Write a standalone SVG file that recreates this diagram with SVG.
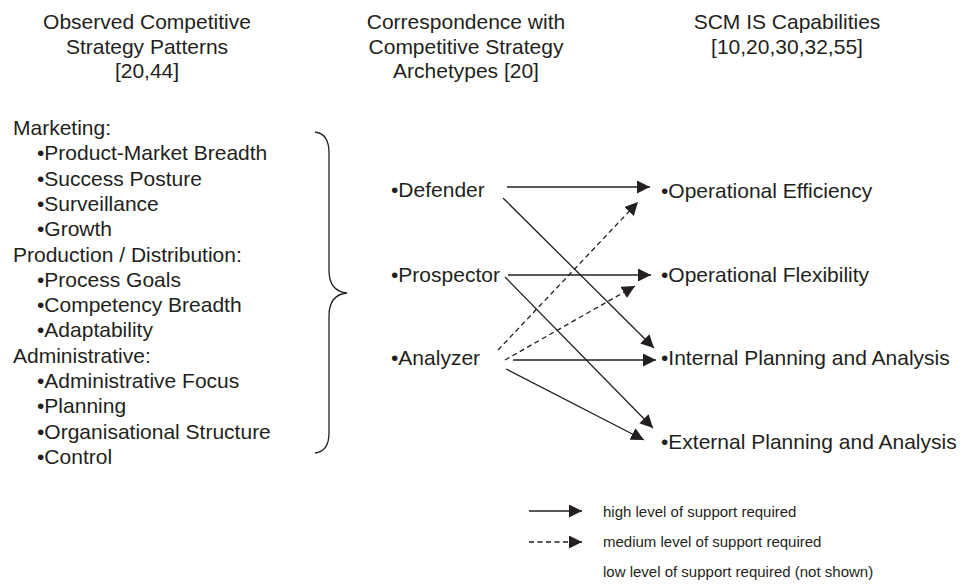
<svg xmlns="http://www.w3.org/2000/svg" width="962" height="586" viewBox="0 0 962 586">
<style>
text{font-family:"Liberation Sans",Arial,sans-serif;fill:#231f20}
.h{font-size:21px;text-anchor:middle}
.t{font-size:21px}
.lg{font-size:15px}
.c{stroke:#231f20;stroke-width:1.3;fill:none}
.d{stroke-dasharray:5 3.5}
</style>
<defs>
<marker id="ah" markerUnits="userSpaceOnUse" markerWidth="13" markerHeight="13" refX="13" refY="6.5" orient="auto" viewBox="0 0 13 13">
<path d="M0,0 L13,6.5 L0,13 z" fill="#231f20"/>
</marker>
</defs>
<rect width="962" height="586" fill="#fff"/>
<g id="headings">
<text class="h" x="147" y="29">Observed Competitive</text>
<text class="h" x="147" y="53.5">Strategy Patterns</text>
<text class="h" x="147" y="78">[20,44]</text>
<text class="h" x="466" y="29">Correspondence with</text>
<text class="h" x="466" y="53.5">Competitive Strategy</text>
<text class="h" x="466" y="78">Archetypes [20]</text>
<text class="h" x="787" y="29">SCM IS Capabilities</text>
<text class="h" x="787" y="53.5">[10,20,30,32,55]</text>
</g>
<g id="patterns" class="t">
<text x="13" y="135">Marketing:</text>
<text x="37" y="160.3">•Product-Market Breadth</text>
<text x="37" y="185.6">•Success Posture</text>
<text x="37" y="210.9">•Surveillance</text>
<text x="37" y="236.2">•Growth</text>
<text x="13" y="261.5">Production / Distribution:</text>
<text x="37" y="286.8">•Process Goals</text>
<text x="37" y="312.1">•Competency Breadth</text>
<text x="37" y="337.4">•Adaptability</text>
<text x="13" y="362.7">Administrative:</text>
<text x="37" y="388">•Administrative Focus</text>
<text x="37" y="413.3">•Planning</text>
<text x="37" y="438.6">•Organisational Structure</text>
<text x="37" y="463.9">•Control</text>
</g>
<g id="brace">
<path class="c" d="M315,132 C324,133 329,140 329,153 L329,270 C329,285 336,292 347,293 C336,294 329,301 329,316 L329,433 C329,446 324,452 315,453"/>
</g>
<g id="defender"><text class="t" x="391" y="197">•Defender</text></g>
<g id="prospector"><text class="t" x="391" y="282">•Prospector</text></g>
<g id="analyzer"><text class="t" x="391" y="365">•Analyzer</text></g>
<g id="op-efficiency"><text class="t" x="661" y="198">•Operational Efficiency</text></g>
<g id="op-flexibility"><text class="t" x="661" y="282">•Operational Flexibility</text></g>
<g id="internal"><text class="t" x="661" y="365">•Internal Planning and Analysis</text></g>
<g id="external"><text class="t" x="661" y="449">•External Planning and Analysis</text></g>
<g id="connectors">
<line class="c" x1="507" y1="187" x2="650" y2="187" marker-end="url(#ah)"/>
<line class="c" x1="503" y1="198" x2="654" y2="348" marker-end="url(#ah)"/>
<line class="c" x1="508" y1="275" x2="651" y2="275" marker-end="url(#ah)"/>
<line class="c" x1="505" y1="277" x2="653" y2="428" marker-end="url(#ah)"/>
<line class="c d" x1="498" y1="350" x2="638" y2="202" marker-end="url(#ah)"/>
<line class="c d" x1="505" y1="360" x2="635" y2="286" marker-end="url(#ah)"/>
<line class="c" x1="513" y1="360" x2="656" y2="360" marker-end="url(#ah)"/>
<line class="c" x1="506" y1="369" x2="644" y2="440" marker-end="url(#ah)"/>
</g>
<g id="legend">
<line class="c" x1="529" y1="511" x2="582" y2="511" marker-end="url(#ah)"/>
<line class="c d" x1="529" y1="542" x2="582" y2="542" marker-end="url(#ah)"/>
<text class="lg" x="603" y="516.5">high level of support required</text>
<text class="lg" x="603" y="546.5">medium level of support required</text>
<text class="lg" x="603" y="577">low level of support required (not shown)</text>
</g>
</svg>
